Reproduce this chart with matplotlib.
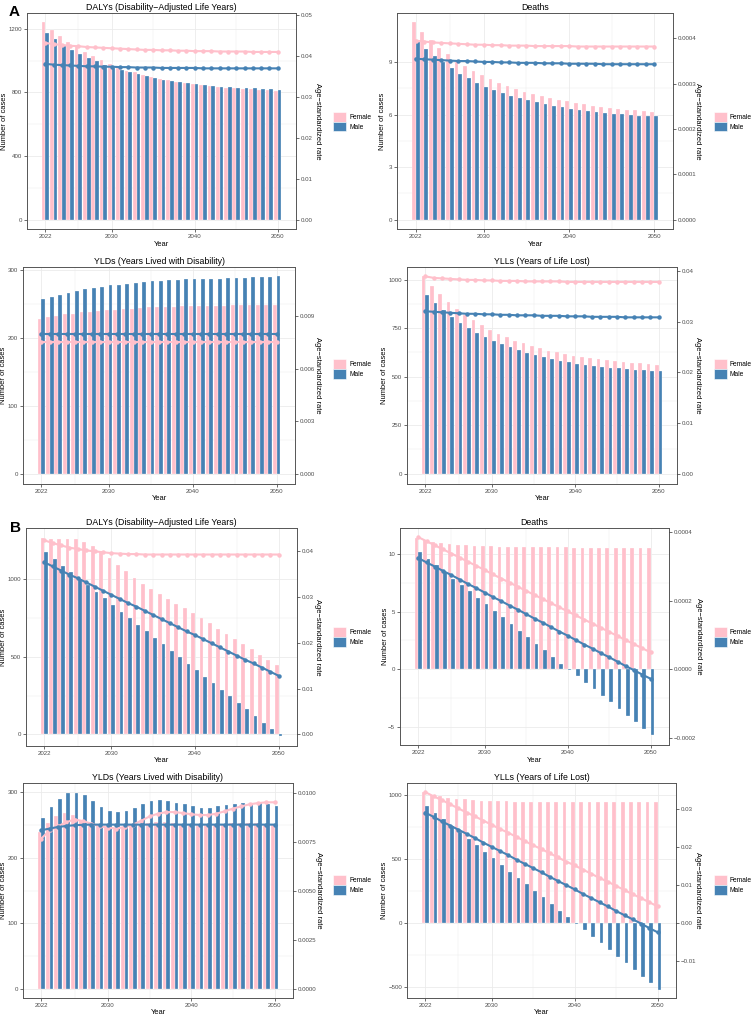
import numpy as np
import matplotlib.pyplot as plt
from matplotlib.patches import Patch

plt.rcParams['font.family'] = ['Liberation Sans', 'DejaVu Sans']

# ====================== DATA ======================
years = np.arange(2022, 2051)

# --- A: DALYs ---
a_dalys_f = [1242, 1196, 1158, 1118, 1091, 1056, 1028, 1003, 980, 955, 938, 927, 913, 898, 887,
             879, 868, 860, 852, 845, 839, 835, 831, 827, 824, 820, 818, 816, 812]
a_dalys_m = [1175, 1137, 1095, 1070, 1045, 1017, 997, 975, 955, 940, 927, 917, 902, 892, 881,
             875, 866, 858, 852, 848, 843, 837, 833, 831, 827, 825, 822, 820, 818]
a_dalys_rate_f = [0.0431, 0.0428, 0.0426, 0.0424, 0.0423, 0.0421, 0.0420, 0.0419, 0.0418, 0.0417,
                  0.0416, 0.0415, 0.0414, 0.0414, 0.0413, 0.0413, 0.0412, 0.0412, 0.0411, 0.0411,
                  0.0411, 0.0410, 0.0410, 0.0410, 0.0410, 0.0409, 0.0409, 0.0409, 0.0409]
a_dalys_rate_m = [0.0380, 0.0378, 0.0377, 0.0376, 0.0375, 0.0374, 0.0374, 0.0373, 0.0373, 0.0372,
                  0.0372, 0.0371, 0.0371, 0.0371, 0.0370, 0.0370, 0.0370, 0.0370, 0.0370, 0.0369,
                  0.0369, 0.0369, 0.0369, 0.0369, 0.0369, 0.0369, 0.0369, 0.0369, 0.0369]

# --- A: Deaths ---
a_deaths_f = [11.25, 10.72, 10.27, 9.81, 9.45, 9.03, 8.78, 8.50, 8.25, 8.02, 7.80, 7.60, 7.45, 7.30,
              7.17, 7.03, 6.94, 6.84, 6.75, 6.65, 6.58, 6.50, 6.43, 6.37, 6.31, 6.27, 6.24, 6.20, 6.16]
a_deaths_m = [10.15, 9.75, 9.32, 8.97, 8.63, 8.33, 8.06, 7.81, 7.59, 7.41, 7.22, 7.07, 6.92, 6.81,
              6.69, 6.58, 6.48, 6.41, 6.33, 6.27, 6.20, 6.14, 6.10, 6.05, 6.01, 5.97, 5.93, 5.91, 5.89]
a_deaths_rate_f = [3.95e-4, 3.93e-4, 3.91e-4, 3.90e-4, 3.89e-4, 3.88e-4, 3.87e-4, 3.86e-4, 3.86e-4,
                   3.85e-4, 3.85e-4, 3.84e-4, 3.84e-4, 3.84e-4, 3.83e-4, 3.83e-4, 3.83e-4, 3.83e-4,
                   3.83e-4, 3.82e-4, 3.82e-4, 3.82e-4, 3.82e-4, 3.82e-4, 3.82e-4, 3.82e-4, 3.82e-4,
                   3.82e-4, 3.82e-4]
a_deaths_rate_m = [3.55e-4, 3.54e-4, 3.53e-4, 3.52e-4, 3.51e-4, 3.50e-4, 3.50e-4, 3.49e-4, 3.48e-4,
                   3.48e-4, 3.47e-4, 3.47e-4, 3.46e-4, 3.46e-4, 3.46e-4, 3.45e-4, 3.45e-4, 3.45e-4,
                   3.44e-4, 3.44e-4, 3.44e-4, 3.44e-4, 3.43e-4, 3.43e-4, 3.43e-4, 3.43e-4, 3.43e-4,
                   3.43e-4, 3.43e-4]

# --- A: YLDs ---
a_ylds_f = [229, 231, 233, 235, 236, 238, 239, 240, 241, 242, 243, 243.5, 244.5, 245.5, 246,
            246.5, 246.5, 247, 247, 247.5, 247.5, 248, 248, 248.5, 248.5, 249, 249, 249.5, 249.5]
a_ylds_m = [258, 261, 264, 267, 269.5, 272, 274, 276, 278, 279, 280, 281, 283, 284, 285,
            286, 286, 287, 287, 288, 288, 288, 289, 289, 289, 290, 290, 290, 291]
a_ylds_rate_f = [0.00753] * 29
a_ylds_rate_m = [0.00799] * 29

# --- A: YLLs ---
a_ylls_f = [1017, 966, 925, 885, 851, 820, 791, 765, 740, 719, 702, 685, 671, 658, 646,
            634, 625, 616, 608, 601, 594, 589, 584, 579, 575, 572, 568, 565, 562]
a_ylls_m = [920, 878, 842, 808, 776, 750, 724, 704, 683, 666, 651, 637, 623, 611, 601,
            591, 580, 574, 567, 562, 555, 550, 546, 543, 539, 536, 533, 531, 527]
a_ylls_rate_f = [0.0390, 0.0387, 0.0386, 0.0385, 0.0384, 0.0383, 0.0383, 0.0382, 0.0382, 0.0381,
                 0.0381, 0.0381, 0.0380, 0.0380, 0.0380, 0.0380, 0.0380, 0.0379, 0.0379, 0.0379,
                 0.0379, 0.0379, 0.0379, 0.0379, 0.0379, 0.0379, 0.0379, 0.0379, 0.0379]
a_ylls_rate_m = [0.0321, 0.0320, 0.0319, 0.0318, 0.0317, 0.0316, 0.0316, 0.0315, 0.0315, 0.0314,
                 0.0314, 0.0313, 0.0313, 0.0313, 0.0312, 0.0312, 0.0312, 0.0311, 0.0311, 0.0311,
                 0.0310, 0.0310, 0.0310, 0.0310, 0.0309, 0.0309, 0.0309, 0.0309, 0.0309]

# --- B: DALYs ---
b_dalys_f = [1267, 1261, 1263, 1263, 1259, 1244, 1218, 1185, 1138, 1095, 1052, 1009, 972, 938, 905,
             875, 843, 815, 782, 750, 718, 683, 649, 614, 582, 550, 513, 478, 446]
b_dalys_m = [1177, 1134, 1088, 1047, 1006, 965, 920, 879, 834, 793, 752, 709, 666, 625, 582,
             541, 498, 457, 414, 373, 330, 289, 246, 203, 162, 119, 75, 34, -9]
b_dalys_rate_f = [0.0424, 0.0418, 0.0413, 0.0408, 0.0405, 0.0402, 0.0400, 0.0398, 0.0396, 0.0395,
                  0.0394, 0.0394, 0.0393, 0.0393, 0.0393, 0.0393, 0.0393, 0.0393, 0.0393, 0.0393,
                  0.0393, 0.0393, 0.0393, 0.0393, 0.0393, 0.0393, 0.0393, 0.0393, 0.0393]
b_dalys_rate_m = [0.0376, 0.0367, 0.0358, 0.0349, 0.0341, 0.0332, 0.0323, 0.0314, 0.0305, 0.0296,
                  0.0287, 0.0279, 0.0270, 0.0261, 0.0252, 0.0243, 0.0234, 0.0225, 0.0217, 0.0208,
                  0.0199, 0.0190, 0.0181, 0.0172, 0.0163, 0.0155, 0.0146, 0.0137, 0.0128]

# --- B: Deaths ---
b_deaths_f = [11.39, 11.19, 11.07, 10.96, 10.87, 10.81, 10.77, 10.73, 10.70, 10.67, 10.65, 10.63,
              10.61, 10.60, 10.59, 10.58, 10.58, 10.57, 10.57, 10.56, 10.56, 10.56, 10.55, 10.55,
              10.55, 10.55, 10.55, 10.55, 10.55]
b_deaths_m = [10.17, 9.59, 9.01, 8.43, 7.86, 7.30, 6.75, 6.20, 5.62, 5.04, 4.49, 3.91, 3.36, 2.78,
              2.20, 1.65, 1.07, 0.49, -0.06, -0.61, -1.19, -1.74, -2.32, -2.87, -3.45, -4.03,
              -4.58, -5.16, -5.74]
b_deaths_rate_f = [3.86e-4, 3.74e-4, 3.62e-4, 3.50e-4, 3.38e-4, 3.26e-4, 3.14e-4, 3.02e-4, 2.90e-4,
                   2.77e-4, 2.65e-4, 2.53e-4, 2.41e-4, 2.29e-4, 2.17e-4, 2.05e-4, 1.93e-4, 1.81e-4,
                   1.69e-4, 1.57e-4, 1.45e-4, 1.33e-4, 1.21e-4, 1.09e-4, 0.97e-4, 0.85e-4, 0.73e-4,
                   0.61e-4, 0.49e-4]
b_deaths_rate_m = [3.25e-4, 3.12e-4, 3.00e-4, 2.87e-4, 2.75e-4, 2.62e-4, 2.49e-4, 2.37e-4, 2.24e-4,
                   2.11e-4, 1.99e-4, 1.86e-4, 1.74e-4, 1.61e-4, 1.48e-4, 1.36e-4, 1.23e-4, 1.10e-4,
                   0.98e-4, 0.85e-4, 0.72e-4, 0.60e-4, 0.47e-4, 0.35e-4, 0.22e-4, 0.09e-4,
                   -0.03e-4, -0.16e-4, -0.28e-4]

# --- B: YLDs ---
b_ylds_f = [239, 253, 263, 268, 265, 257, 253, 249, 246, 245, 246, 248, 251, 253, 254,
            254, 253, 252, 251, 250, 250, 251, 252, 253, 253, 253, 253, 252, 251]
b_ylds_m = [260, 277, 289, 298, 299, 295, 286, 277, 271, 269, 271, 276, 282, 287, 288,
            287, 284, 281, 278, 276, 276, 278, 280, 282, 283, 284, 283, 282, 279]
b_ylds_rate_f = [0.00769, 0.00811, 0.00831, 0.00853, 0.00866, 0.00858, 0.00845, 0.00831, 0.00825,
                 0.00820, 0.00828, 0.00840, 0.00860, 0.00882, 0.00896, 0.00904, 0.00904, 0.00899,
                 0.00893, 0.00889, 0.00889, 0.00896, 0.00908, 0.00922, 0.00933, 0.00944, 0.00950,
                 0.00954, 0.00954]
b_ylds_rate_m = [0.00811, 0.00820, 0.00828, 0.00833, 0.00837, 0.00839, 0.00840, 0.00840, 0.00840,
                 0.00840, 0.00840, 0.00840, 0.00840, 0.00840, 0.00840, 0.00840, 0.00840, 0.00840,
                 0.00840, 0.00840, 0.00840, 0.00840, 0.00840, 0.00840, 0.00840, 0.00840, 0.00840,
                 0.00840, 0.00840]

# --- B: YLLs ---
b_ylls_f = [1026, 1005, 992, 982, 974, 968, 963, 959, 956, 954, 952, 951, 950, 949, 948,
            948, 947, 947, 947, 947, 946, 946, 946, 946, 946, 946, 946, 946, 946]
b_ylls_m = [914, 862, 811, 761, 710, 658, 609, 559, 508, 456, 404, 355, 305, 253, 202,
            150, 99, 47, -4, -56, -107, -158, -210, -261, -313, -364, -416, -467, -519]
b_ylls_rate_f = [0.0345, 0.0334, 0.0324, 0.0313, 0.0302, 0.0291, 0.0281, 0.0270, 0.0259, 0.0248,
                 0.0238, 0.0227, 0.0216, 0.0205, 0.0195, 0.0184, 0.0173, 0.0162, 0.0152, 0.0141,
                 0.0130, 0.0119, 0.0109, 0.0098, 0.0087, 0.0076, 0.0066, 0.0055, 0.0044]
b_ylls_rate_m = [0.0291, 0.0280, 0.0268, 0.0257, 0.0246, 0.0235, 0.0224, 0.0212, 0.0201, 0.0190,
                 0.0179, 0.0167, 0.0156, 0.0145, 0.0134, 0.0122, 0.0111, 0.0100, 0.0089, 0.0077,
                 0.0066, 0.0055, 0.0044, 0.0032, 0.0021, 0.0010, -0.0001, -0.0013, -0.0024]

x_ticks = [2022, 2030, 2040, 2050]

# ====================== STYLE ======================
W, H = 751, 1016
PINK = '#FFC0CB'
BLUE = '#4682B4'
GRID = '#EBEBEB'
BORDER = '#333333'

fig = plt.figure(figsize=(W / 100, H / 100), dpi=100)


def lab(s):
    # segno meno tipografico come nella figura originale
    return s.replace('-', '\u2212')


def add_panel(box, title, f_cases, m_cases, f_rate, m_rate,
              ylim, yticks, ylim2, yticks2, fmt2, legend_pos, ylab_x, rlab_x):
    l, t, r, b = box
    ax = fig.add_axes([l / W, 1 - b / H, (r - l) / W, (b - t) / H])
    ax.set_axisbelow(True)

    ax.bar(years - 0.225, f_cases, width=0.45, color=PINK, edgecolor='white', linewidth=0.2, zorder=2)
    ax.bar(years + 0.225, m_cases, width=0.45, color=BLUE, edgecolor='white', linewidth=0.2, zorder=2)

    ax.set_xlim(2019.8, 2052.2)
    ax.set_ylim(*ylim)
    ax.set_xticks(x_ticks)
    ax.set_xticks([2026, 2035, 2045], minor=True)
    ax.set_yticks(yticks)
    ax.set_yticks([(a + c) / 2 for a, c in zip(yticks[:-1], yticks[1:])], minor=True)
    ax.set_yticklabels([lab(str(v)) for v in yticks])
    ax.grid(True, which='major', color=GRID, linewidth=0.6)
    ax.grid(True, which='minor', color=GRID, linewidth=0.3)
    ax.tick_params(which='major', length=2, width=0.5, color=BORDER, labelsize=4.4,
                   labelcolor='#4D4D4D', pad=1.5)
    ax.tick_params(which='minor', length=0)
    for s in ax.spines.values():
        s.set_color('#555555')
        s.set_linewidth(0.7)

    ax2 = ax.twinx()
    ax2.plot(years, f_rate, color=PINK, linewidth=1.5, marker='o', markersize=2.2, zorder=3)
    ax2.plot(years, m_rate, color=BLUE, linewidth=1.5, marker='o', markersize=2.2, zorder=3)
    ax2.set_ylim(*ylim2)
    ax2.set_yticks(yticks2)
    ax2.set_yticklabels([lab(fmt2.format(v)) for v in yticks2])
    ax2.tick_params(length=2, width=0.5, color=BORDER, labelsize=4.4, labelcolor='#4D4D4D', pad=1.5)
    for s in ax2.spines.values():
        s.set_visible(False)

    ax.set_title(title, fontsize=6.3, pad=2.5)
    ax.set_xlabel('Year', fontsize=5.4, va='center')
    ax.xaxis.set_label_coords(0.5, -15 / (b - t))
    ax.set_ylabel('Number of cases', fontsize=5.4, va='center', ha='center')
    ax.yaxis.set_label_coords((ylab_x - l) / (r - l), 0.5)
    ax2.set_ylabel('Age\u2212standardized rate', fontsize=5.4, rotation=270, va='center', ha='center')
    ax2.yaxis.set_label_coords((rlab_x - l) / (r - l), 0.5)

    handles = [Patch(facecolor=PINK, edgecolor='white', linewidth=0.4),
               Patch(facecolor=BLUE, edgecolor='white', linewidth=0.4)]
    fig.legend(handles, ['Female', 'Male'], loc='center left',
               bbox_to_anchor=(legend_pos[0] / W, 1 - legend_pos[1] / H),
               frameon=False, fontsize=4.8, handlelength=1.9, handleheight=1.9,
               labelspacing=0.0, handletextpad=0.5, borderpad=0, borderaxespad=0)
    return ax


# ====================== PANELS ======================
add_panel((27, 13, 296, 229), 'DALYs (Disability\u2212Adjusted Life Years)',
          a_dalys_f, a_dalys_m, a_dalys_rate_f, a_dalys_rate_m,
          (-59, 1300), [0, 400, 800, 1200], (-0.00228, 0.0504),
          [0, 0.01, 0.02, 0.03, 0.04, 0.05], '{:.2f}', (333, 121.5), 5, 318)

add_panel((397, 13, 673, 229), 'Deaths',
          a_deaths_f, a_deaths_m, a_deaths_rate_f, a_deaths_rate_m,
          (-0.53, 11.79), [0, 3, 6, 9], (-0.0000206, 0.000456),
          [0, 0.0001, 0.0002, 0.0003, 0.0004], '{:.4f}', (714, 121.5), 383, 698)

add_panel((23, 267, 295, 484), 'YLDs (Years Lived with Disability)',
          a_ylds_f, a_ylds_m, a_ylds_rate_f, a_ylds_rate_m,
          (-15, 305), [0, 100, 200, 300], (-0.00057, 0.01182),
          [0, 0.003, 0.006, 0.009], '{:.3f}', (333, 369), 4, 317)

add_panel((407, 267, 677, 484), 'YLLs (Years of Life Lost)',
          a_ylls_f, a_ylls_m, a_ylls_rate_f, a_ylls_rate_m,
          (-53, 1065), [0, 250, 500, 750, 1000], (-0.00204, 0.04085),
          [0, 0.01, 0.02, 0.03, 0.04], '{:.2f}', (714, 369), 385, 698)

add_panel((26, 528, 297, 746), 'DALYs (Disability\u2212Adjusted Life Years)',
          b_dalys_f, b_dalys_m, b_dalys_rate_f, b_dalys_rate_m,
          (-75, 1332), [0, 500, 1000], (-0.00255, 0.0451),
          [0, 0.01, 0.02, 0.03, 0.04], '{:.2f}', (333, 637), 4, 317)

add_panel((400, 528, 669, 745), 'Deaths',
          b_deaths_f, b_deaths_m, b_deaths_rate_f, b_deaths_rate_m,
          (-6.58, 12.26), [-5, 0, 5, 10], (-0.0002215, 0.0004127),
          [-0.0002, 0, 0.0002, 0.0004], '{:.4f}', (714, 637), 385, 698)

add_panel((23, 783, 293, 998), 'YLDs (Years Lived with Disability)',
          b_ylds_f, b_ylds_m, b_ylds_rate_f, b_ylds_rate_m,
          (-13.7, 313.7), [0, 100, 200, 300], (-0.000458, 0.010526),
          [0, 0.0025, 0.005, 0.0075, 0.01], '{:.4f}', (333, 885), 4, 318)

add_panel((407, 783, 676, 998), 'YLLs (Years of Life Lost)',
          b_ylls_f, b_ylls_m, b_ylls_rate_f, b_ylls_rate_m,
          (-584, 1096), [-500, 0, 500, 1000], (-0.01968, 0.0369),
          [-0.01, 0, 0.01, 0.02, 0.03], '{:.2f}', (714, 885), 385, 698)

fig.text(9 / W, 1 - 12 / H, 'A', fontsize=11, fontweight='bold', va='center', ha='left')
fig.text(10 / W, 1 - 528 / H, 'B', fontsize=11, fontweight='bold', va='center', ha='left')

fig.savefig('out.png', dpi=100)
